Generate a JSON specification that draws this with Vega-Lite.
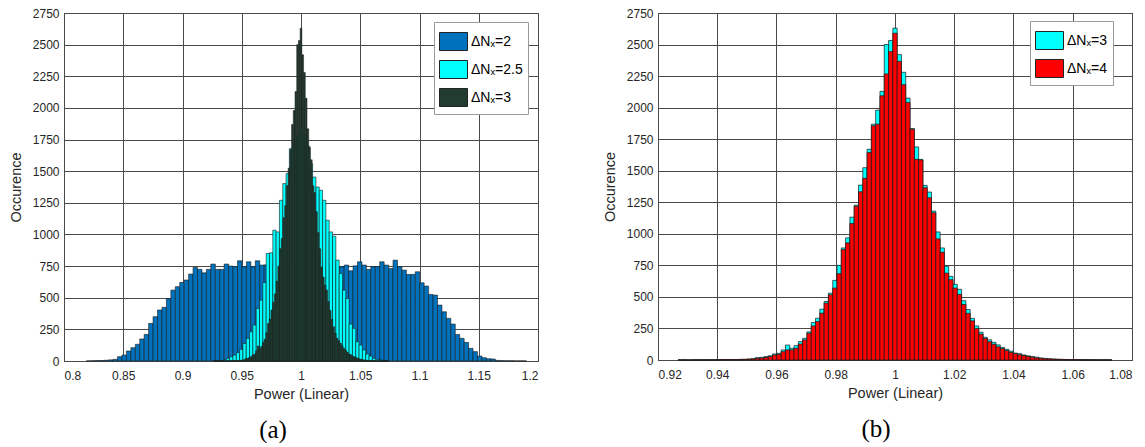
{
  "$schema": "https://vega.github.io/schema/vega-lite/v6.json",
  "autosize": {"type": "pad"},
  "padding": {"left": 7, "top": 6, "right": 0, "bottom": 0},
  "background": "white",
  "datasets": {
    "a2": [
      {"lo":0.818925,"hi":0.822675,"n":1},{"lo":0.822675,"hi":0.826425,"n":2},{"lo":0.826425,"hi":0.830175,"n":3},{"lo":0.830175,"hi":0.833925,"n":4},{"lo":0.833925,"hi":0.837675,"n":6},{"lo":0.837675,"hi":0.841425,"n":9},
      {"lo":0.841425,"hi":0.845175,"n":13},{"lo":0.845175,"hi":0.848925,"n":34},{"lo":0.848925,"hi":0.852675,"n":47},{"lo":0.852675,"hi":0.856425,"n":79},{"lo":0.856425,"hi":0.860175,"n":105},{"lo":0.860175,"hi":0.863925,"n":132},
      {"lo":0.863925,"hi":0.867675,"n":174},{"lo":0.867675,"hi":0.871425,"n":210},{"lo":0.871425,"hi":0.875175,"n":297},{"lo":0.875175,"hi":0.878925,"n":350},{"lo":0.878925,"hi":0.882675,"n":403},{"lo":0.882675,"hi":0.886425,"n":424},
      {"lo":0.886425,"hi":0.890175,"n":492},{"lo":0.890175,"hi":0.893925,"n":560},{"lo":0.893925,"hi":0.897675,"n":587},{"lo":0.897675,"hi":0.901425,"n":621},{"lo":0.901425,"hi":0.905175,"n":640},{"lo":0.905175,"hi":0.908925,"n":687},
      {"lo":0.908925,"hi":0.912675,"n":739},{"lo":0.912675,"hi":0.916425,"n":724},{"lo":0.916425,"hi":0.920175,"n":697},{"lo":0.920175,"hi":0.923925,"n":724},{"lo":0.923925,"hi":0.927675,"n":766},{"lo":0.927675,"hi":0.931425,"n":724},
      {"lo":0.931425,"hi":0.935175,"n":724},{"lo":0.935175,"hi":0.938925,"n":766},{"lo":0.938925,"hi":0.942675,"n":750},{"lo":0.942675,"hi":0.946425,"n":745},{"lo":0.946425,"hi":0.950175,"n":792},{"lo":0.950175,"hi":0.953925,"n":745},
      {"lo":0.953925,"hi":0.957675,"n":784},{"lo":0.957675,"hi":0.961425,"n":745},{"lo":0.961425,"hi":0.965175,"n":792},{"lo":0.965175,"hi":0.968925,"n":758},{"lo":0.968925,"hi":0.972675,"n":760},{"lo":0.972675,"hi":0.976425,"n":770},
      {"lo":0.976425,"hi":0.980175,"n":780},{"lo":0.980175,"hi":0.983925,"n":760},{"lo":0.983925,"hi":0.987675,"n":790},{"lo":0.987675,"hi":0.991425,"n":775},{"lo":0.991425,"hi":0.995175,"n":765},{"lo":0.995175,"hi":0.998925,"n":780},
      {"lo":0.998925,"hi":1.002675,"n":795},{"lo":1.002675,"hi":1.006425,"n":770},{"lo":1.006425,"hi":1.010175,"n":760},{"lo":1.010175,"hi":1.013925,"n":785},{"lo":1.013925,"hi":1.017675,"n":775},{"lo":1.017675,"hi":1.021425,"n":790},
      {"lo":1.021425,"hi":1.025175,"n":765},{"lo":1.025175,"hi":1.028925,"n":780},{"lo":1.028925,"hi":1.032675,"n":739},{"lo":1.032675,"hi":1.036425,"n":745},{"lo":1.036425,"hi":1.040175,"n":758},{"lo":1.040175,"hi":1.043925,"n":713},
      {"lo":1.043925,"hi":1.047675,"n":752},{"lo":1.047675,"hi":1.051425,"n":784},{"lo":1.051425,"hi":1.055175,"n":758},{"lo":1.055175,"hi":1.058925,"n":724},{"lo":1.058925,"hi":1.062675,"n":745},{"lo":1.062675,"hi":1.066425,"n":745},
      {"lo":1.066425,"hi":1.070175,"n":784},{"lo":1.070175,"hi":1.073925,"n":758},{"lo":1.073925,"hi":1.077675,"n":731},{"lo":1.077675,"hi":1.081425,"n":797},{"lo":1.081425,"hi":1.085175,"n":744},{"lo":1.085175,"hi":1.088925,"n":718},
      {"lo":1.088925,"hi":1.092675,"n":684},{"lo":1.092675,"hi":1.096425,"n":684},{"lo":1.096425,"hi":1.100175,"n":705},{"lo":1.100175,"hi":1.103925,"n":618},{"lo":1.103925,"hi":1.107675,"n":592},{"lo":1.107675,"hi":1.111425,"n":526},
      {"lo":1.111425,"hi":1.115175,"n":521},{"lo":1.115175,"hi":1.118925,"n":442},{"lo":1.118925,"hi":1.122675,"n":389},{"lo":1.122675,"hi":1.126425,"n":337},{"lo":1.126425,"hi":1.130175,"n":292},{"lo":1.130175,"hi":1.133925,"n":210},
      {"lo":1.133925,"hi":1.137675,"n":179},{"lo":1.137675,"hi":1.141425,"n":147},{"lo":1.141425,"hi":1.145175,"n":100},{"lo":1.145175,"hi":1.148925,"n":74},{"lo":1.148925,"hi":1.152675,"n":39},{"lo":1.152675,"hi":1.156425,"n":26},
      {"lo":1.156425,"hi":1.160175,"n":18},{"lo":1.160175,"hi":1.163925,"n":16},{"lo":1.163925,"hi":1.167675,"n":5},{"lo":1.167675,"hi":1.171425,"n":3},{"lo":1.171425,"hi":1.175175,"n":2},{"lo":1.175175,"hi":1.178925,"n":2},
      {"lo":1.178925,"hi":1.182675,"n":1},{"lo":1.182675,"hi":1.186425,"n":1},{"lo":1.186425,"hi":1.190175,"n":1}
    ],
    "a25": [
      {"lo":0.9258,"hi":0.9286,"n":1},{"lo":0.9286,"hi":0.9314,"n":2},{"lo":0.9314,"hi":0.9342,"n":4},{"lo":0.9342,"hi":0.937,"n":8},{"lo":0.937,"hi":0.9398,"n":21},{"lo":0.9398,"hi":0.9426,"n":34},
      {"lo":0.9426,"hi":0.9454,"n":47},{"lo":0.9454,"hi":0.9482,"n":66},{"lo":0.9482,"hi":0.951,"n":92},{"lo":0.951,"hi":0.9538,"n":139},{"lo":0.9538,"hi":0.9566,"n":179},{"lo":0.9566,"hi":0.9594,"n":231},
      {"lo":0.9594,"hi":0.9622,"n":284},{"lo":0.9622,"hi":0.965,"n":415},{"lo":0.965,"hi":0.9678,"n":481},{"lo":0.9678,"hi":0.9706,"n":620},{"lo":0.9706,"hi":0.9734,"n":850},{"lo":0.9734,"hi":0.9762,"n":855},
      {"lo":0.9762,"hi":0.979,"n":1034},{"lo":0.979,"hi":0.9818,"n":1020},{"lo":0.9818,"hi":0.9846,"n":1270},{"lo":0.9846,"hi":0.9874,"n":1402},{"lo":0.9874,"hi":0.9902,"n":1481},{"lo":0.9902,"hi":0.993,"n":1678},
      {"lo":0.993,"hi":0.9958,"n":1720},{"lo":0.9958,"hi":0.9986,"n":1780},{"lo":0.9986,"hi":1.0014,"n":1850},{"lo":1.0014,"hi":1.0042,"n":1790},{"lo":1.0042,"hi":1.007,"n":1700},{"lo":1.007,"hi":1.0098,"n":1560},
      {"lo":1.0098,"hi":1.0126,"n":1454},{"lo":1.0126,"hi":1.0154,"n":1375},{"lo":1.0154,"hi":1.0182,"n":1349},{"lo":1.0182,"hi":1.021,"n":1270},{"lo":1.021,"hi":1.0238,"n":1112},{"lo":1.0238,"hi":1.0266,"n":1020},
      {"lo":1.0266,"hi":1.0294,"n":986},{"lo":1.0294,"hi":1.0322,"n":797},{"lo":1.0322,"hi":1.035,"n":691},{"lo":1.035,"hi":1.0378,"n":560},{"lo":1.0378,"hi":1.0406,"n":494},{"lo":1.0406,"hi":1.0434,"n":292},
      {"lo":1.0434,"hi":1.0462,"n":258},{"lo":1.0462,"hi":1.049,"n":152},{"lo":1.049,"hi":1.0518,"n":126},{"lo":1.0518,"hi":1.0546,"n":87},{"lo":1.0546,"hi":1.0574,"n":55},{"lo":1.0574,"hi":1.0602,"n":39},
      {"lo":1.0602,"hi":1.063,"n":21},{"lo":1.063,"hi":1.0658,"n":13},{"lo":1.0658,"hi":1.0686,"n":8},{"lo":1.0686,"hi":1.0714,"n":4},{"lo":1.0714,"hi":1.0742,"n":2}
    ],
    "b": [
      {"lo":0.926775,"hi":0.928225,"n3":1,"n4":0},{"lo":0.928225,"hi":0.929675,"n3":1,"n4":1},{"lo":0.929675,"hi":0.931125,"n3":0,"n4":0},{"lo":0.931125,"hi":0.932575,"n3":1,"n4":0},
      {"lo":0.932575,"hi":0.934025,"n3":1,"n4":1},{"lo":0.934025,"hi":0.935475,"n3":1,"n4":1},{"lo":0.935475,"hi":0.936925,"n3":1,"n4":1},{"lo":0.936925,"hi":0.938375,"n3":2,"n4":1},
      {"lo":0.938375,"hi":0.939825,"n3":2,"n4":1},{"lo":0.939825,"hi":0.941275,"n3":2,"n4":2},{"lo":0.941275,"hi":0.942725,"n3":3,"n4":2},{"lo":0.942725,"hi":0.944175,"n3":3,"n4":2},
      {"lo":0.944175,"hi":0.945625,"n3":4,"n4":3},{"lo":0.945625,"hi":0.947075,"n3":4,"n4":3},{"lo":0.947075,"hi":0.948525,"n3":5,"n4":3},{"lo":0.948525,"hi":0.949975,"n3":6,"n4":4},
      {"lo":0.949975,"hi":0.951425,"n3":8,"n4":6},{"lo":0.951425,"hi":0.952875,"n3":11,"n4":8},{"lo":0.952875,"hi":0.954325,"n3":19,"n4":13},{"lo":0.954325,"hi":0.955775,"n3":21,"n4":16},
      {"lo":0.955775,"hi":0.957225,"n3":27,"n4":21},{"lo":0.957225,"hi":0.958675,"n3":34,"n4":27},{"lo":0.958675,"hi":0.960125,"n3":48,"n4":40},{"lo":0.960125,"hi":0.961575,"n3":53,"n4":45},
      {"lo":0.961575,"hi":0.963025,"n3":80,"n4":66},{"lo":0.963025,"hi":0.964475,"n3":119,"n4":80},{"lo":0.964475,"hi":0.965925,"n3":93,"n4":80},{"lo":0.965925,"hi":0.967375,"n3":114,"n4":93},
      {"lo":0.967375,"hi":0.968825,"n3":146,"n4":127},{"lo":0.968825,"hi":0.970275,"n3":172,"n4":159},{"lo":0.970275,"hi":0.971725,"n3":223,"n4":212},{"lo":0.971725,"hi":0.973175,"n3":297,"n4":270},
      {"lo":0.973175,"hi":0.974625,"n3":331,"n4":305},{"lo":0.974625,"hi":0.976075,"n3":403,"n4":371},{"lo":0.976075,"hi":0.977525,"n3":464,"n4":451},{"lo":0.977525,"hi":0.978975,"n3":530,"n4":517},
      {"lo":0.978975,"hi":0.980425,"n3":631,"n4":570},{"lo":0.980425,"hi":0.981875,"n3":750,"n4":684},{"lo":0.981875,"hi":0.983325,"n3":888,"n4":875},{"lo":0.983325,"hi":0.984775,"n3":968,"n4":928},
      {"lo":0.984775,"hi":0.986225,"n3":1132,"n4":1082},{"lo":0.986225,"hi":0.987675,"n3":1227,"n4":1219},{"lo":0.987675,"hi":0.989125,"n3":1386,"n4":1333},{"lo":0.989125,"hi":0.990575,"n3":1524,"n4":1440},
      {"lo":0.990575,"hi":0.992025,"n3":1670,"n4":1644},{"lo":0.992025,"hi":0.993475,"n3":1869,"n4":1856},{"lo":0.993475,"hi":0.994925,"n3":1980,"n4":1869},{"lo":0.994925,"hi":0.996375,"n3":2129,"n4":2094},
      {"lo":0.996375,"hi":0.997825,"n3":2500,"n4":2267},{"lo":0.997825,"hi":0.999275,"n3":2532,"n4":2444},{"lo":0.999275,"hi":1.000725,"n3":2630,"n4":2590},{"lo":1.000725,"hi":1.002175,"n3":2420,"n4":2367},
      {"lo":1.002175,"hi":1.003625,"n3":2280,"n4":2182},{"lo":1.003625,"hi":1.005075,"n3":2076,"n4":2041},{"lo":1.005075,"hi":1.006525,"n3":1835,"n4":1829},{"lo":1.006525,"hi":1.007975,"n3":1689,"n4":1590},
      {"lo":1.007975,"hi":1.009425,"n3":1590,"n4":1585},{"lo":1.009425,"hi":1.010875,"n3":1384,"n4":1365},{"lo":1.010875,"hi":1.012325,"n3":1331,"n4":1286},{"lo":1.012325,"hi":1.013775,"n3":1180,"n4":1166},
      {"lo":1.013775,"hi":1.015225,"n3":1015,"n4":960},{"lo":1.015225,"hi":1.016675,"n3":888,"n4":854},{"lo":1.016675,"hi":1.018125,"n3":742,"n4":689},{"lo":1.018125,"hi":1.019575,"n3":663,"n4":636},
      {"lo":1.019575,"hi":1.021025,"n3":600,"n4":570},{"lo":1.021025,"hi":1.022475,"n3":560,"n4":520},{"lo":1.022475,"hi":1.023925,"n3":470,"n4":440},{"lo":1.023925,"hi":1.025375,"n3":400,"n4":370},
      {"lo":1.025375,"hi":1.026825,"n3":330,"n4":310},{"lo":1.026825,"hi":1.028275,"n3":270,"n4":250},{"lo":1.028275,"hi":1.029725,"n3":220,"n4":205},{"lo":1.029725,"hi":1.031175,"n3":180,"n4":170},
      {"lo":1.031175,"hi":1.032625,"n3":160,"n4":145},{"lo":1.032625,"hi":1.034075,"n3":140,"n4":125},{"lo":1.034075,"hi":1.035525,"n3":120,"n4":105},{"lo":1.035525,"hi":1.036975,"n3":100,"n4":90},
      {"lo":1.036975,"hi":1.038425,"n3":85,"n4":75},{"lo":1.038425,"hi":1.039875,"n3":70,"n4":60},{"lo":1.039875,"hi":1.041325,"n3":55,"n4":50},{"lo":1.041325,"hi":1.042775,"n3":50,"n4":42},
      {"lo":1.042775,"hi":1.044225,"n3":40,"n4":35},{"lo":1.044225,"hi":1.045675,"n3":33,"n4":28},{"lo":1.045675,"hi":1.047125,"n3":28,"n4":22},{"lo":1.047125,"hi":1.048575,"n3":22,"n4":17},
      {"lo":1.048575,"hi":1.050025,"n3":16,"n4":13},{"lo":1.050025,"hi":1.051475,"n3":13,"n4":10},{"lo":1.051475,"hi":1.052925,"n3":10,"n4":8},{"lo":1.052925,"hi":1.054375,"n3":8,"n4":6},
      {"lo":1.054375,"hi":1.055825,"n3":6,"n4":5},{"lo":1.055825,"hi":1.057275,"n3":5,"n4":4},{"lo":1.057275,"hi":1.058725,"n3":4,"n4":3},{"lo":1.058725,"hi":1.060175,"n3":3,"n4":2},
      {"lo":1.060175,"hi":1.061625,"n3":3,"n4":2},{"lo":1.061625,"hi":1.063075,"n3":2,"n4":2},{"lo":1.063075,"hi":1.064525,"n3":2,"n4":1},{"lo":1.064525,"hi":1.065975,"n3":2,"n4":1},
      {"lo":1.065975,"hi":1.067425,"n3":1,"n4":1},{"lo":1.067425,"hi":1.068875,"n3":1,"n4":1},{"lo":1.068875,"hi":1.070325,"n3":1,"n4":0},{"lo":1.070325,"hi":1.071775,"n3":1,"n4":1},
      {"lo":1.071775,"hi":1.073225,"n3":1,"n4":0}
    ]
  },
  "config": {
    "view": {"stroke": "#262626", "strokeWidth": 1},
    "axis": {
      "labelFont": "Liberation Sans", "labelFontSize": 12, "labelColor": "#262626",
      "titleFont": "Liberation Sans", "titleFontSize": 14.5, "titleFontWeight": "normal", "titleColor": "#262626",
      "ticks": false, "domain": false, "grid": true, "gridColor": "#4a4a4a", "gridWidth": 1, "gridOpacity": 1
    },
    "axisX": {"labelPadding": 9, "titlePadding": 6},
    "axisY": {"labelPadding": 5, "titlePadding": 9},
    "legend": {
      "title": null, "fillColor": "white", "strokeColor": "#9a9a9a", "padding": 5,
      "symbolType": "M-1,-0.643L1,-0.643L1,0.643L-1,0.643Z", "symbolSize": 784,
      "symbolStrokeColor": "#222222", "symbolStrokeWidth": 1, "symbolOpacity": 1,
      "labelFont": "Liberation Sans, DejaVu Sans", "labelFontSize": 14, "labelColor": "black",
      "labelOffset": 3, "rowPadding": 2
    },
    "title": {"font": "Liberation Serif", "fontSize": 25, "fontWeight": "normal", "color": "black"}
  },
  "hconcat": [
    {
      "width": 474, "height": 348,
      "title": {"text": "(a)", "orient": "bottom", "offset": 17, "dx": -28},
      "encoding": {
        "x": {"field": "lo", "type": "quantitative", "title": "Power (Linear)",
          "scale": {"domain": [0.8, 1.2], "nice": false, "zero": false},
          "axis": {"values": [0.8, 0.85, 0.9, 0.95, 1, 1.05, 1.1, 1.15, 1.2], "format": "~g"}},
        "x2": {"field": "hi"},
        "y": {"type": "quantitative", "title": "Occurence",
          "scale": {"domain": [0, 2750], "nice": false},
          "axis": {"values": [0, 250, 500, 750, 1000, 1250, 1500, 1750, 2000, 2250, 2500, 2750], "format": "d"}},
        "y2": {"datum": 0}
      },
      "layer": [
        {"data": {"name": "a2"}, "mark": {"type": "bar", "stroke": "#1a1a1a", "strokeWidth": 0.6},
          "encoding": {"y": {"field": "n", "type": "quantitative"},
            "color": {"datum": "ΔNₓ=2", "type": "nominal",
              "scale": {"domain": ["ΔNₓ=2", "ΔNₓ=2.5", "ΔNₓ=3"], "range": ["#0072BD", "#00FFFF", "#223d30"]},
              "legend": {"orient": "none", "legendX": 370, "legendY": 9}}}},
        {"data": {"name": "a25"}, "mark": {"type": "bar", "stroke": "#1a1a1a", "strokeWidth": 0.6},
          "encoding": {"y": {"field": "n", "type": "quantitative"},
            "color": {"datum": "ΔNₓ=2.5", "type": "nominal"}}},
        {"data": {"name": "b"}, "mark": {"type": "bar", "stroke": "#1a1a1a", "strokeWidth": 0.5},
          "encoding": {"y": {"field": "n3", "type": "quantitative"},
            "color": {"datum": "ΔNₓ=3", "type": "nominal"}}}
      ]
    },
    {
      "width": 474, "height": 347,
      "title": {"text": "(b)", "orient": "bottom", "offset": 17, "dx": -19},
      "data": {"name": "b"},
      "encoding": {
        "x": {"field": "lo", "type": "quantitative", "title": "Power (Linear)",
          "scale": {"domain": [0.92, 1.08], "nice": false, "zero": false},
          "axis": {"values": [0.92, 0.94, 0.96, 0.98, 1, 1.02, 1.04, 1.06, 1.08], "format": "~g"}},
        "x2": {"field": "hi"},
        "y": {"type": "quantitative", "title": "Occurence",
          "scale": {"domain": [0, 2750], "nice": false},
          "axis": {"values": [0, 250, 500, 750, 1000, 1250, 1500, 1750, 2000, 2250, 2500, 2750], "format": "d"}},
        "y2": {"datum": 0}
      },
      "layer": [
        {"mark": {"type": "bar", "stroke": "#1a1a1a", "strokeWidth": 0.7},
          "encoding": {"y": {"field": "n3", "type": "quantitative"},
            "color": {"datum": "ΔNₓ=3", "type": "nominal",
              "scale": {"domain": ["ΔNₓ=3", "ΔNₓ=4"], "range": ["#00FFFF", "#FF0000"]},
              "legend": {"orient": "none", "legendX": 372, "legendY": 8}}}},
        {"mark": {"type": "bar", "stroke": "#1a1a1a", "strokeWidth": 0.7},
          "encoding": {"y": {"field": "n4", "type": "quantitative"},
            "color": {"datum": "ΔNₓ=4", "type": "nominal"}}}
      ]
    }
  ],
  "spacing": 120,
  "bounds": "flush",
  "resolve": {"scale": {"color": "independent", "x": "independent", "y": "independent"}, "legend": {"color": "independent"}}
}
